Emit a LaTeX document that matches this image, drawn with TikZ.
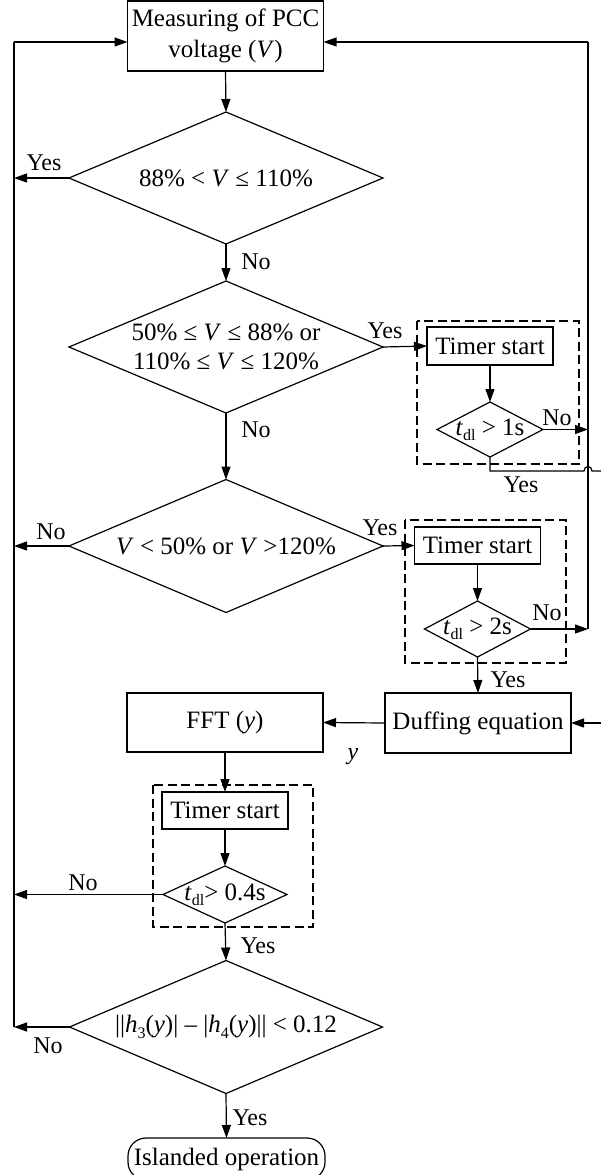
\documentclass[tikz,border=0pt]{standalone}
\usepackage{fontspec}
\setmainfont{Liberation Serif}
\usetikzlibrary{shapes.geometric,arrows.meta}
\newcommand{\mysub}[1]{\raisebox{-0.45ex}{\fontsize{16}{16}\selectfont #1}}
\begin{document}
\begin{tikzpicture}[x=1pt,y=-1pt,
  every node/.style={font=\fontsize{25}{30}\selectfont},
  box/.style={draw, rectangle, inner sep=0pt, outer sep=0pt, align=center, line width=1.2pt},
  dia/.style={draw, diamond, inner sep=0pt, outer sep=0pt, line width=1.2pt},
  grp/.style={draw, dash pattern=on 9pt off 4.5pt, line width=1.2pt},
  arr/.style={-{Triangle[length=13pt,width=9pt]}, line width=1.2pt},
  ln/.style={line width=1.2pt},
  lbl/.style={inner sep=0pt, font=\fontsize{24}{28}\selectfont}]
\useasboundingbox (0,0) rectangle (601,1175);

% main column
\node[box, minimum width=196pt, minimum height=70pt, font=\fontsize{25}{31}\selectfont] (meas) at (225.5,36) {Measuring of PCC\\voltage (\textit{V})};
\node[dia, minimum width=314pt, minimum height=132pt, label={center:88\% < \textit{V} ≤ 110\%}] (d1) at (226,178) {};
\node[dia, minimum width=314pt, minimum height=132pt, label={[align=center, font=\fontsize{25}{29}\selectfont]center:50\% ≤ \textit{V} ≤ 88\% or\\110\% ≤ \textit{V} ≤ 120\%}] (d2) at (226,347) {};
\node[dia, minimum width=314pt, minimum height=133pt, label={center:\textit{V} < 50\% or \textit{V} >120\%}] (d3) at (226,546) {};

% timer group 1
\draw[grp] (417,321) rectangle (579,464);
\node[box, minimum width=126pt, minimum height=38pt] (t1) at (490,346) {Timer start};
\node[dia, minimum width=106pt, minimum height=55pt, label={center:\textit{t}\mysub{dl} > 1s}] (s1) at (490,429.5) {};

% timer group 2
\draw[grp] (405,520) rectangle (566,663);
\node[box, minimum width=126pt, minimum height=37pt] (t2) at (477.5,545.5) {Timer start};
\node[dia, minimum width=106pt, minimum height=56pt, label={center:\textit{t}\mysub{dl} > 2s}] (s2) at (477.5,629) {};

\node[box, minimum width=186pt, minimum height=60pt] (duff) at (478,723) {Duffing equation};
\node[box, minimum width=196pt, minimum height=59pt] (fft) at (225,722.5) {FFT (\textit{y})};

% timer group 3
\draw[grp] (153,785) rectangle (313,927);
\node[box, minimum width=126pt, minimum height=37pt] (t3) at (225,810.5) {Timer start};
\node[dia, minimum width=124pt, minimum height=57pt, label={center:\textit{t}\mysub{dl}> 0.4s}] (s3) at (225,894.5) {};

\node[dia, minimum width=313pt, minimum height=133pt, label={center:||\textit{h}\mysub{3}(\textit{y})| \textendash\ |\textit{h}\mysub{4}(\textit{y})|| < 0.12}] (d4) at (226,1027) {};
\node[box, rounded corners=18pt, minimum width=197pt, minimum height=42pt] (isl) at (226.5,1159) {Islanded operation};

% side rails
\coordinate (Ltop) at (14,42);
\coordinate (Rtop) at (588,42);
\coordinate (Rx) at (603,471);

% connectors
\draw[arr] (meas.south) -- (d1.north);
\draw[arr] (d1.west) -- (d1.west -| Ltop);
\draw[arr] (d1.south) -- (d2.north);
\draw[arr] (d2.east) -- (t1.west);
\draw[arr] (d2.south) -- (d3.north);
\draw[arr] (d3.west) -- (d3.west -| Ltop);
\draw[arr] (d3.east) -- (t2.west);
\draw[arr] (t1.south) -- (s1.north);
\draw[arr] (s1.east) -- (s1.east -| Rtop);
\draw[ln] (s1.south) -- (s1.south |- Rx) -- (584,471) .. controls (584,465) and (592,465) .. (592,471) -- (Rx) -- (Rx |- duff.east);
\draw[arr] (Rx |- duff.east) -- (duff.east);
\draw[arr] (t2.south) -- (s2.north);
\draw[arr] (s2.east) -- (s2.east -| Rtop);
\draw[ln] (s2.east -| Rtop) -- (Rtop);
\draw[arr] (Rtop) -- (Rtop -| meas.east);
\draw[arr] (s2.south) -- (duff.north);
\draw[arr] (duff.west) -- (fft.east);
\draw[arr] (fft.south) -- (t3.north);
\draw[arr] (t3.south) -- (s3.north);
\draw[arr] (s3.west) -- (s3.west -| Ltop);
\draw[arr] (s3.south) -- (d4.north);
\draw[arr] (d4.west) -- (d4.west -| Ltop);
\draw[arr] (d4.south) -- (isl.north);
\draw[ln] (d4.west -| Ltop) -- (Ltop);
\draw[arr] (Ltop) -- (Ltop -| meas.west);

% labels
\node[lbl] (l1) at (44,163) {Yes};
\node[lbl] (l2) at (256,262) {No};
\node[lbl] (l3) at (385,331) {Yes};
\node[lbl] (l4) at (256,430) {No};
\node[lbl] (l5) at (51,532) {No};
\node[lbl] (l6) at (380,528) {Yes};
\node[lbl] (l7) at (557,418) {No};
\node[lbl] (l8) at (521,485) {Yes};
\node[lbl] (l9) at (547,613) {No};
\node[lbl] (l10) at (508,680) {Yes};
\node[lbl] (l11) at (353,757) {\textit{y}};
\node[lbl] (l12) at (83,883) {No};
\node[lbl] (l13) at (258,946) {Yes};
\node[lbl] (l14) at (48,1046) {No};
\node[lbl] (l15) at (250,1118) {Yes};
\end{tikzpicture}
\end{document}
